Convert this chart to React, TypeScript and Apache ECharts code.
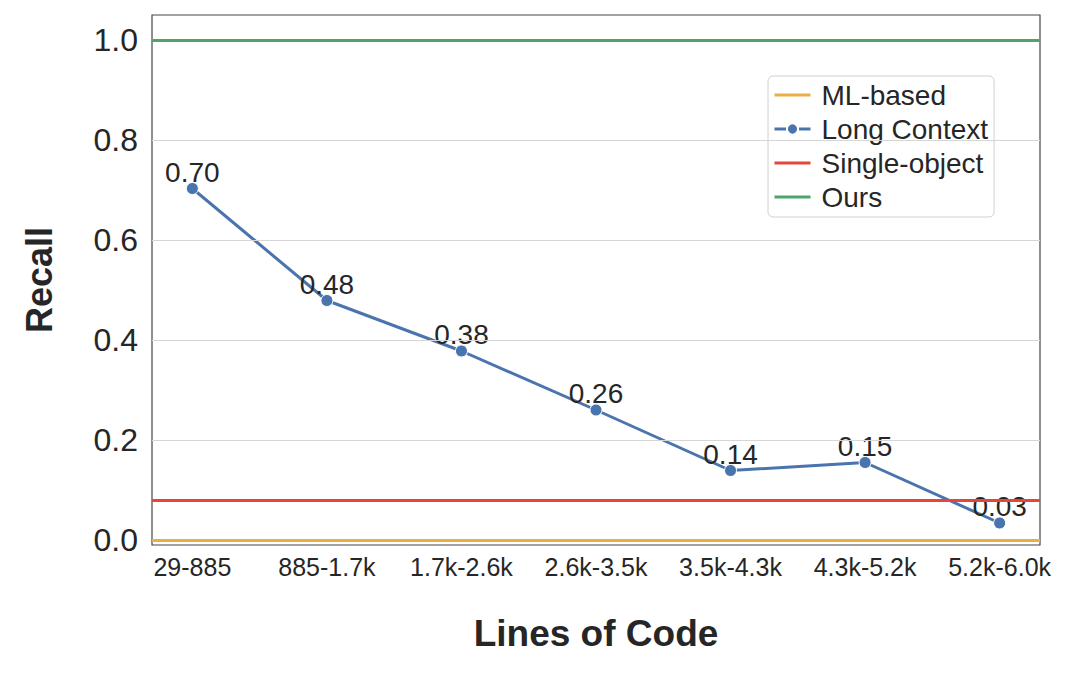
import React, { useEffect, useRef } from "react";
import * as echarts from "echarts";

const categories = ["29-885", "885-1.7k", "1.7k-2.6k", "2.6k-3.5k", "3.5k-4.3k", "4.3k-5.2k", "5.2k-6.0k"];
const longContext = [0.703, 0.479, 0.378, 0.26, 0.139, 0.155, 0.034];
const mlBased = 0.0;
const singleObject = 0.082;
const ours = 1.0;
const yTicks = [0, 0.2, 0.4, 0.6, 0.8, 1.0];
const xTicks = categories.map((_, i) => i);

const FONT = "'Liberation Sans', Arial, sans-serif";
const TEXT = "#262626";
const BLUE = "#4A74AE";

export default function App() {
  const ref = useRef<HTMLDivElement>(null);
  useEffect(() => {
    if (!ref.current) return;
    const chart = echarts.init(ref.current, null, { renderer: "svg" });
    const hline = (name: string, value: number, color: string) => ({
      name,
      type: "line",
      data: [],
      symbol: "none",
      itemStyle: { color },
      lineStyle: { color, width: 2.8 },
      z: 3,
      markLine: {
        silent: true,
        symbol: "none",
        label: { show: false },
        lineStyle: { color, width: 2.8, type: "solid" },
        data: [{ yAxis: value }],
      },
    });
    chart.setOption({
      animation: false,
      textStyle: { fontFamily: FONT },
      grid: {
        left: 152,
        right: 40,
        top: 15,
        bottom: 129,
        show: true,
        borderColor: "#444",
        borderWidth: 1.2,
        backgroundColor: "#fff",
      },
      legend: {
        data: [
          { name: "ML-based", itemStyle: { opacity: 0 } },
          { name: "Long Context" },
          { name: "Single-object", itemStyle: { opacity: 0 } },
          { name: "Ours", itemStyle: { opacity: 0 } },
        ],
        orient: "vertical",
        left: 768,
        top: 76,
        backgroundColor: "#fff",
        borderColor: "#d0d0d0",
        borderWidth: 1,
        borderRadius: 5,
        padding: [5, 6, 6, 5],
        itemGap: 6,
        itemWidth: 36,
        itemHeight: 14,
        lineStyle: { width: 3 },
        textStyle: { fontSize: 28, color: TEXT, fontFamily: FONT, padding: [0, 0, 0, 6] },
      },
      xAxis: {
        type: "value",
        min: -0.3,
        max: 6.3,
        name: "Lines of Code",
        nameLocation: "middle",
        nameGap: 70,
        nameTextStyle: { fontSize: 37, fontWeight: "bold", color: TEXT, fontFamily: FONT },
        axisLine: { show: false },
        axisTick: { show: false },
        splitLine: { show: false },
        axisLabel: {
          customValues: xTicks,
          formatter: (v: number) => categories[Math.round(v)] ?? "",
          fontSize: 25,
          color: TEXT,
          margin: 9,
          fontFamily: FONT,
        },
      },
      yAxis: {
        type: "value",
        min: -0.01,
        max: 1.05,
        name: "Recall",
        nameLocation: "middle",
        nameGap: 95,
        nameTextStyle: { fontSize: 36, fontWeight: "bold", color: TEXT, fontFamily: FONT },
        axisLine: { show: false },
        axisTick: { show: false },
        splitLine: { show: false },
        axisLabel: {
          customValues: yTicks,
          formatter: (v: number) => v.toFixed(1),
          fontSize: 32,
          color: TEXT,
          margin: 14,
          fontFamily: FONT,
        },
      },
      series: [
        {
          name: "grid",
          type: "line",
          data: [],
          symbol: "none",
          z: 1,
          markLine: {
            silent: true,
            symbol: "none",
            label: { show: false },
            lineStyle: { color: "#d6d6d6", width: 1.2, type: "solid" },
            data: yTicks.map((v) => ({ yAxis: v })),
          },
        },
        hline("ML-based", mlBased, "#EBAE45"),
        {
          name: "Long Context",
          type: "line",
          data: longContext.map((v, i) => [i, v]),
          color: BLUE,
          lineStyle: { width: 3, color: BLUE },
          symbol: "circle",
          symbolSize: 12,
          itemStyle: { color: BLUE, borderColor: "#fff", borderWidth: 1 },
          z: 4,
          label: {
            show: true,
            position: "top",
            distance: -4,
            fontSize: 28,
            color: TEXT,
            fontFamily: FONT,
            formatter: (p: any) => p.value[1].toFixed(2),
          },
        },
        hline("Single-object", singleObject, "#E8453A"),
        hline("Ours", ours, "#4DA56A"),
      ],
    });
    return () => chart.dispose();
  }, []);
  return (
    <div
      ref={ref}
      style={{ position: "fixed", left: 0, top: 0, width: 1080, height: 674, background: "#fff" }}
    />
  );
}
